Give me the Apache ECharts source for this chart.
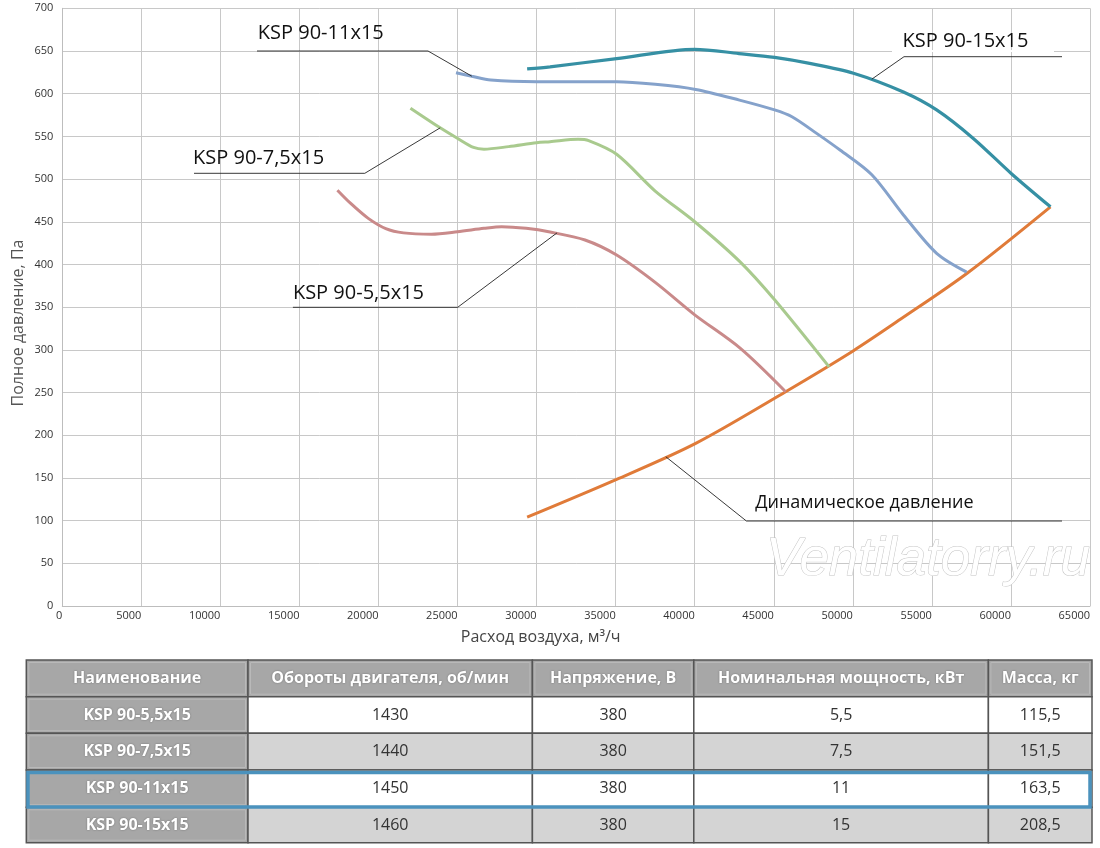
<!DOCTYPE html>
<html><head><meta charset="utf-8">
<script src="https://cdn.jsdelivr.net/npm/echarts@6/dist/echarts.min.js"></script>
<style>html,body{margin:0;padding:0;background:#fff}#c{width:1100px;height:848px}</style>
</head><body><div id="c"></div>
<script>
// ---- chart data (flow m3/h, total pressure Pa) ----
const ksp15 = [[29400,629],[30850,631.5],[35060,641],[40000,652],[42800,647],[45050,642.5],[47270,635.5],[50040,624],[53200,602],[55300,581],[57620,547.6],[60050,506],[62500,467.5]];
const ksp11 = [[24900,624.5],[25900,620.5],[27100,616],[30000,614],[35060,614],[37500,611],[40060,605],[42830,592.5],[45050,581],[46150,573],[47710,553.5],[49190,534],[51200,505],[53200,458],[55300,413],[57200,391]];
const ksp75 = [[22020,583],[23900,560],[25010,547.5],[26010,537],[26670,535],[28230,538],[30000,542.5],[30850,543.7],[32620,546.5],[33290,545],[35060,529],[37500,486],[40000,450],[42870,403],[45080,358],[48500,280]];
const ksp55 = [[17400,487],[18240,471.5],[19350,454],[20460,442],[21580,437],[23350,435.5],[24990,438.3],[26670,442.3],[27790,444.2],[29340,442.3],[30850,438],[33060,428.6],[35060,411],[37500,379],[40000,341],[42870,302],[45750,251]];
const dynamic = [[29400,104],[35060,148.3],[40060,190.5],[45750,251],[50040,299],[53030,336],[57250,390],[62500,467.5]];

const seriesNames = ['KSP 90-15x15','KSP 90-11x15','KSP 90-7,5x15','KSP 90-5,5x15','Динамическое давление'];

// ---- table data ----
const tableHeader = ['Наименование','Обороты двигателя, об/мин','Напряжение, В','Номинальная мощность, кВт','Масса, кг'];
const models = ['KSP 90-5,5x15','KSP 90-7,5x15','KSP 90-11x15','KSP 90-15x15'];
const rpm = ['1430','1440','1450','1460'];
const voltage = ['380','380','380','380'];
const power = ['5,5','7,5','11','15'];
const mass = ['115,5','151,5','163,5','208,5'];

const FONT = '"Open Sans", "Noto Sans", sans-serif';
const chart = echarts.init(document.getElementById('c'));

function lineSeries(name, data, color, width) {
  return { name, type:'line', data, showSymbol:false, smooth:0.3, silent:true,
    lineStyle:{color, width}, itemStyle:{color}, z:3 };
}

chart.setOption({
  animation:false,
  backgroundColor:'#fff',
  grid:{left:62.3, right:10, top:8.3, bottom:242},
  xAxis:{type:'value', min:0, max:65000, interval:5000,
    axisLine:{lineStyle:{color:'#bdbdbd'}}, axisTick:{show:false},
    axisLabel:{align:'right', margin:4, fontSize:11, color:'#333', fontFamily:FONT, formatter:v=>String(v)},
    splitLine:{lineStyle:{color:'#c8c8c8', width:1}}},
  yAxis:{type:'value', min:0, max:700, interval:50,
    axisLine:{show:true, lineStyle:{color:'#bdbdbd'}}, axisTick:{show:false},
    axisLabel:{margin:9, fontSize:11, color:'#333', fontFamily:FONT, formatter:v=>String(v)},
    splitLine:{lineStyle:{color:'#c8c8c8', width:1}}},
  series:[
    lineSeries(seriesNames[4], dynamic, '#e07b39', 3),
    lineSeries(seriesNames[3], ksp55, '#c98a8a', 3),
    lineSeries(seriesNames[2], ksp75, '#a9ca8e', 3),
    lineSeries(seriesNames[1], ksp11, '#85a2cb', 3),
    lineSeries(seriesNames[0], ksp15, '#3690a4', 3.2)
  ]
});

// ---- annotations ----
const annotations = [
  {text:seriesNames[1], tx:257.8, ty:33.3, ly:51, x1:257, x2:428, anchor:[25900,620.5], size:20},
  {text:seriesNames[2], tx:193, ty:158.3, ly:173.3, x1:194, x2:364.8, anchor:[23900,560], size:20},
  {text:seriesNames[3], tx:292.9, ty:293.3, ly:307.3, x1:292.9, x2:457.7, anchor:[31290,437], size:20},
  {text:seriesNames[0], tx:902.5, ty:41.7, ly:56.7, x1:1062, x2:904, anchor:[51200,617], size:20, mask:true},
  {text:seriesNames[4], tx:755.2, ty:503.3, ly:521, x1:1062, x2:746.4, anchor:[38170,174.8], size:18}
];
const g = [];
annotations.forEach(a => {
  const p = chart.convertToPixel({gridIndex:0}, a.anchor);
  if (a.mask) g.push({type:'line', z:4, shape:{x1:892, y1:51, x2:1054, y2:51}, style:{stroke:'#fff', lineWidth:2}});
  g.push({type:'polyline', z:5, shape:{points:[[a.x1,a.ly],[a.x2,a.ly],p]}, style:{stroke:'#222', lineWidth:0.9, fill:null}});
  g.push({type:'text', z:5, x:a.tx, y:a.ty, style:{text:a.text, fill:'#111', font:a.size+'px '+FONT, textAlign:'left', textVerticalAlign:'middle', align:'left', verticalAlign:'middle'}});
});
// axis names
g.push({type:'text', z:5, x:540.7, y:637, style:{text:'Расход воздуха, м³/ч', fill:'#444', font:'16px '+FONT, textAlign:'center', textVerticalAlign:'middle', align:'center', verticalAlign:'middle'}});
g.push({type:'text', z:5, x:18, y:323, rotation:Math.PI/2, style:{text:'Полное давление, Па', fill:'#555', font:'16px '+FONT, textAlign:'center', textVerticalAlign:'middle', align:'center', verticalAlign:'middle'}});
// watermark
g.push({type:'text', z:2, x:1090, y:560, style:{text:'Ventilatorry.ru', fill:'#fff', stroke:'#c4c4c4', lineWidth:1, font:'italic 53px "Liberation Sans", sans-serif', textAlign:'right', textVerticalAlign:'middle', align:'right', verticalAlign:'middle'}});

// ---- table ----
const colX = [26.3, 248, 532.4, 693.8, 988.4, 1092];
const rowY = [660, 696.7, 733.3, 770, 807.3, 842.7];
const rows = [tableHeader].concat(models.map((m,i)=>[m, rpm[i], voltage[i], power[i], mass[i]]));
rows.forEach((r, ri) => {
  r.forEach((cell, ci) => {
    const x = colX[ci], y = rowY[ri], w = colX[ci+1]-x, h = rowY[ri+1]-y;
    const grayCell = ri === 0 || ci === 0;
    const fill = grayCell ? '#a7a7a7' : (ri % 2 === 0 ? '#d4d4d4' : '#ffffff');
    g.push({type:'rect', z:1, shape:{x, y, width:w, height:h}, style:{fill, stroke:'#555', lineWidth:1.5}});
    if (grayCell) g.push({type:'rect', z:1, shape:{x:x+2.5, y:y+2.5, width:w-5, height:h-5}, style:{fill:null, stroke:'#b9b9b9', lineWidth:1}});
    g.push({type:'text', z:2, x:x+w/2, y:y+h/2, style:{text:cell,
      fill: grayCell ? '#fff' : '#333',
      font: (grayCell ? 'bold ' : '') + '16px ' + FONT,
      textShadowColor: grayCell ? 'rgba(0,0,0,0.35)' : 'transparent', textShadowBlur: grayCell ? 2 : 0,
      textAlign:'center', textVerticalAlign:'middle', align:'center', verticalAlign:'middle'}});
  });
});
// highlighted row
g.push({type:'rect', z:3, shape:{x:28, y:772.5, width:1062, height:34.5}, style:{fill:null, stroke:'#4b92bd', lineWidth:3.5}});

chart.setOption({graphic:{elements:g}});
</script></body></html>
